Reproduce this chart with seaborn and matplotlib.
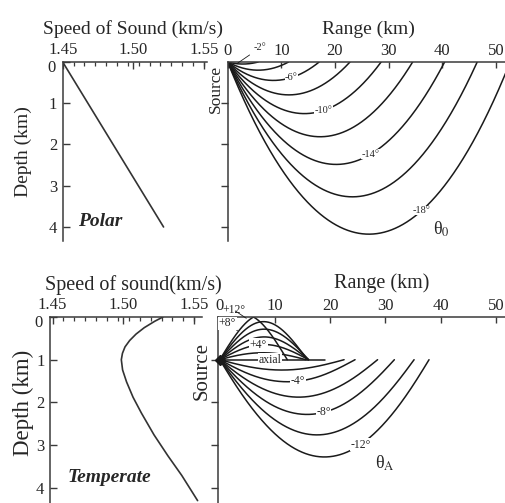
import math
import bisect
import numpy as np
import pandas as pd
import matplotlib
matplotlib.use("Agg")
import matplotlib.pyplot as plt
import seaborn as sns

# ---------------- data ----------------
# Polar sound-speed profile (linear)
polar_depth_km = [0.0, 4.0]
polar_speed_kms = [1.450, 1.5215]
# launch angles of the polar rays (negative = downward)
polar_angles_deg = [-2, -4, -6, -8, -10, -12, -14, -16, -18]

# Temperate (Munk-type) sound-speed profile
temperate_depth_km = [0.00, 0.10, 0.25, 0.40, 0.55, 0.70, 0.85, 1.00,
                      1.24, 1.52, 1.88, 2.25, 2.76, 3.25, 3.71, 4.30]
temperate_speed_kms = [1.5280, 1.5222, 1.5148, 1.5090, 1.5045, 1.5012, 1.4994, 1.4986,
                       1.4995, 1.5023, 1.5069, 1.5128, 1.5217, 1.5315, 1.5413, 1.5525]
# launch angles of the temperate rays (positive = upward)
temperate_angles_deg = [12, 10, 8, 6, 4, 2, 0, -2, -4, -6, -8, -10, -12]
temperate_source_depth_km = 1.0
axial_ray_end_km = 19.1

speed_ticks = [1.45, 1.50, 1.55]
range_ticks = [0, 10, 20, 30, 40, 50]
depth_ticks = [0, 1, 2, 3, 4]

# ray labels: (angle, range of label in km)
polar_ray_labels = [(-6, 11.9), (-10, 17.9), (-14, 26.6), (-18, 36.2)]
temperate_ray_labels = [(4, 7.0), (0, 9.1), (-4, 14.2), (-8, 18.8), (-12, 25.5)]


# ---------------- ray tracing through the plotted profile ----------------
def make_profile(zn, cn):
    zn = [float(v) for v in zn]
    cn = [float(v) for v in cn]
    n = len(zn)
    sec = [(cn[i + 1] - cn[i]) / (zn[i + 1] - zn[i]) for i in range(n - 1)]
    m = [0.0] * n
    m[0], m[-1] = sec[0], sec[-1]
    for k in range(1, n - 1):
        if sec[k - 1] * sec[k] <= 0:
            m[k] = 0.0
        else:
            hl, hr = zn[k] - zn[k - 1], zn[k + 1] - zn[k]
            m[k] = (hl * sec[k] + hr * sec[k - 1]) / (hl + hr)

    def f(z):
        z = min(max(z, zn[0]), zn[-1])
        i = min(max(bisect.bisect_left(zn, z) - 1, 0), n - 2)
        h = zn[i + 1] - zn[i]
        t = (z - zn[i]) / h
        c = ((2 * t**3 - 3 * t**2 + 1) * cn[i] + (t**3 - 2 * t**2 + t) * h * m[i]
             + (-2 * t**3 + 3 * t**2) * cn[i + 1] + (t**3 - t**2) * h * m[i + 1])
        dc = ((6 * t**2 - 6 * t) * cn[i] + (3 * t**2 - 4 * t + 1) * h * m[i]
              + (-6 * t**2 + 6 * t) * cn[i + 1] + (3 * t**2 - 2 * t) * h * m[i + 1]) / h
        return c, dc
    return f


def trace(prof, z0, theta_up_deg, mode, xmax, ds=0.02):
    c0, _ = prof(z0)
    th = -math.radians(theta_up_deg)  # positive = downward
    xi = math.cos(th) / c0
    x, z, ze = 0.0, z0, math.sin(th) / c0
    s0 = 1.0 if ze > 0 else (-1.0 if ze < 0 else 0.0)

    def rhs(x_, z_, ze_):
        c, dc = prof(z_)
        return c * xi, c * ze_, -dc / (c * c)

    xs, zs = [x], [z]
    turned = False
    for _ in range(200000):
        k1 = rhs(x, z, ze)
        k2 = rhs(x + ds / 2 * k1[0], z + ds / 2 * k1[1], ze + ds / 2 * k1[2])
        k3 = rhs(x + ds / 2 * k2[0], z + ds / 2 * k2[1], ze + ds / 2 * k2[2])
        k4 = rhs(x + ds * k3[0], z + ds * k3[1], ze + ds * k3[2])
        xn = x + ds / 6 * (k1[0] + 2 * k2[0] + 2 * k3[0] + k4[0])
        zn = z + ds / 6 * (k1[1] + 2 * k2[1] + 2 * k3[1] + k4[1])
        zen = ze + ds / 6 * (k1[2] + 2 * k2[2] + 2 * k3[2] + k4[2])
        if mode == "surface":
            if zn < 0:
                f = z / (z - zn)
                xs.append(x + f * (xn - x)); zs.append(0.0)
                break
        else:
            if zn < 0:
                zn, zen = -zn, -zen
            if s0 != 0 and zen * s0 < 0:
                turned = True
            if turned and (zn - z0) * s0 <= 0:
                f = (z - z0) / (z - zn)
                xs.append(x + f * (xn - x)); zs.append(z0)
                break
        x, z, ze = xn, zn, zen
        xs.append(x); zs.append(z)
        if x >= xmax:
            break
    return np.array(xs), np.array(zs)


polar_prof = make_profile(polar_depth_km, polar_speed_kms)
temp_prof = make_profile(temperate_depth_km, temperate_speed_kms)

polar_rays = {}
for a in polar_angles_deg:
    polar_rays[a] = trace(polar_prof, 0.0, a, "surface", 53.0)

temp_rays = {}
for a in temperate_angles_deg:
    if a == 0:
        temp_rays[a] = trace(temp_prof, temperate_source_depth_km, a, "axis", axial_ray_end_km)
    else:
        temp_rays[a] = trace(temp_prof, temperate_source_depth_km, a, "axis", 60.0)


def rays_df(rays):
    frames = []
    for a, (xs, zs) in rays.items():
        frames.append(pd.DataFrame({"range": xs, "depth": zs, "ray": a}))
    return pd.concat(frames, ignore_index=True)


polar_df = rays_df(polar_rays)
temp_df = rays_df(temp_rays)
polar_prof_df = pd.DataFrame({"speed": polar_speed_kms, "depth": polar_depth_km})
temp_prof_df = pd.DataFrame({"speed": temperate_speed_kms, "depth": temperate_depth_km})

# ---------------- figure ----------------
sns.set_theme(style="white")
plt.rcParams["font.family"] = ["Liberation Serif", "DejaVu Serif"]
plt.rcParams["mathtext.fontset"] = "stix"

W, H = 506, 503
fig = plt.figure(figsize=(W / 100, H / 100), dpi=100)


def axes_px(x0, y0, x1, y1):
    return fig.add_axes([x0 / W, 1 - y1 / H, (x1 - x0) / W, (y1 - y0) / H])


ax_tl = axes_px(62.7, 62.0, 207.0, 241.0)
ax_tr = axes_px(227.7, 62.0, 505.5, 241.0)
ax_bl = axes_px(50.0, 317.0, 201.7, 503.0)
ax_br = axes_px(218.3, 317.0, 505.5, 503.0)

INK = "#1a1a1a"
SPINE = "#3a3a3a"

# profiles
sns.lineplot(data=polar_prof_df, x="speed", y="depth", ax=ax_tl, sort=False,
             estimator=None, color="#333333", lw=1.2)
sns.lineplot(data=temp_prof_df, x="speed", y="depth", ax=ax_bl, sort=False,
             estimator=None, color="#333333", lw=1.2)

# rays
sns.lineplot(data=polar_df, x="range", y="depth", units="ray", estimator=None,
             sort=False, ax=ax_tr, color=INK, lw=1.1)
sns.lineplot(data=temp_df, x="range", y="depth", units="ray", estimator=None,
             sort=False, ax=ax_br, color=INK, lw=1.1)
ax_br.plot([0], [temperate_source_depth_km], marker="D", ms=5, color="k",
           clip_on=False, zorder=5)

ax_tl.set_xlim(1.45, 1.5523)
ax_tl.set_ylim(4.34, 0)
ax_tr.set_xlim(0, 51.8)
ax_tr.set_ylim(4.34, 0)
ax_bl.set_xlim(1.4482, 1.5554)
ax_bl.set_ylim(4.356, 0)
ax_br.set_xlim(-0.27, 51.75)
ax_br.set_ylim(4.356, 0)

for ax in (ax_tl, ax_tr, ax_bl, ax_br):
    ax.set_xlabel("")
    ax.set_ylabel("")
    ax.xaxis.tick_top()
    for s in ("right", "bottom"):
        ax.spines[s].set_visible(False)
    for s in ("left", "top"):
        ax.spines[s].set_color(SPINE)
        ax.spines[s].set_linewidth(1.1)
    ax.set_facecolor("none")

for ax in (ax_tl, ax_bl):
    ax.set_xticks(speed_ticks)
    ax.set_xticklabels([f"{v:.2f}" for v in speed_ticks])
    ax.set_xticks(np.arange(1.45, 1.555, 0.0077), minor=True)
    ax.set_yticks(depth_ticks)
    # the "0" label sits a little below the top spine, drawn separately
    ax.set_yticklabels([""] + [str(v) for v in depth_ticks[1:]])
    ax.annotate(str(depth_ticks[0]), xy=(0, depth_ticks[0]),
                xycoords=("axes fraction", "data"), xytext=(-5, -4.5),
                textcoords="offset points", ha="right", va="center", size=12)
    ax.tick_params(axis="x", which="major", direction="in", length=5, width=1,
                   color=SPINE, labelsize=12, pad=3)
    ax.tick_params(axis="x", which="minor", direction="in", length=3, width=0.9,
                   color=SPINE, top=True, bottom=False)
    ax.tick_params(axis="y", direction="in", length=5, width=1, color=SPINE,
                   labelsize=12, pad=4, left=True)

for ax in (ax_tr, ax_br):
    ax.set_xticks(range_ticks)
    ax.set_xticklabels([str(v) for v in range_ticks])
    ax.set_yticks(depth_ticks[1:])
    ax.set_yticklabels([])
    ax.tick_params(axis="x", direction="in", length=4, width=1, color=SPINE,
                   labelsize=12, pad=2)
    ax.tick_params(axis="y", direction="out", length=5, width=1, color=SPINE,
                   left=True)

# axis titles
fig.text(133 / W, 1 - 29 / H, "Speed of Sound (km/s)", ha="center", va="center", size=14)
fig.text(368 / W, 1 - 29 / H, "Range (km)", ha="center", va="center", size=14)
fig.text(133.5 / W, 1 - 285 / H, "Speed of sound(km/s)", ha="center", va="center", size=14.5)
fig.text(381.5 / W, 1 - 283 / H, "Range (km)", ha="center", va="center", size=14.5)
fig.text(23 / W, 1 - 152 / H, "Depth (km)", ha="center", va="center", rotation=90, size=14)
fig.text(23 / W, 1 - 403 / H, "Depth (km)", ha="center", va="center", rotation=90, size=16.5)
fig.text(216 / W, 1 - 89 / H, "Source", ha="center", va="center", rotation=90, size=12.5)
fig.text(202.5 / W, 1 - 371 / H, "Source", ha="center", va="center", rotation=90, size=15)

ax_tl.text(1.4609, 3.86, "Polar", ha="left", va="center", size=14,
           fontweight="bold", fontstyle="italic")
ax_bl.text(1.4609, 3.75, "Temperate", ha="left", va="center", size=14,
           fontweight="bold", fontstyle="italic")

ax_tr.text(39.9, 4.05, "θ$_{0}$", ha="center", va="center", size=13)
ax_br.text(29.9, 3.42, r"θ$_\mathrm{A}$", ha="center", va="center", size=13)

BOX = dict(facecolor="white", edgecolor="none", pad=0.3)


def depth_at(xs, zs, xq):
    i = int(np.argmin(np.abs(xs - xq)))
    return zs[i]


for a, xl in polar_ray_labels:
    xs, zs = polar_rays[a]
    ax_tr.text(xl, depth_at(xs, zs, xl), f"{a}°", ha="center", va="center",
               size=7.5, bbox=BOX, zorder=4)
xs, zs = polar_rays[-2]
ax_tr.annotate("-2°", xy=(1.7, depth_at(xs, zs, 1.7)), xytext=(6.1, -0.35),
               ha="center", va="center", size=7.5, annotation_clip=False,
               arrowprops=dict(arrowstyle="-", lw=0.6, color=INK, shrinkA=1, shrinkB=0))

for a, xl in temperate_ray_labels:
    xs, zs = temp_rays[a]
    txt = "axial" if a == 0 else (f"+{a}°" if a > 0 else f"{a}°")
    ax_br.text(xl, depth_at(xs, zs, xl), txt, ha="center", va="center",
               size=8.5, bbox=BOX, zorder=4)
ax_br.annotate("+12°", xy=(4.8, 0.03), xytext=(2.6, -0.16), ha="center", va="center",
               size=8.5, annotation_clip=False,
               arrowprops=dict(arrowstyle="-", lw=0.6, color=INK, shrinkA=1, shrinkB=0))
ax_br.annotate("+8°", xy=(3.2, 0.32), xytext=(1.4, 0.15), ha="center", va="center",
               size=8.5, annotation_clip=False, bbox=BOX,
               arrowprops=dict(arrowstyle="-", lw=0.6, color=INK, shrinkA=1, shrinkB=0))

fig.savefig("out.png", dpi=100)
